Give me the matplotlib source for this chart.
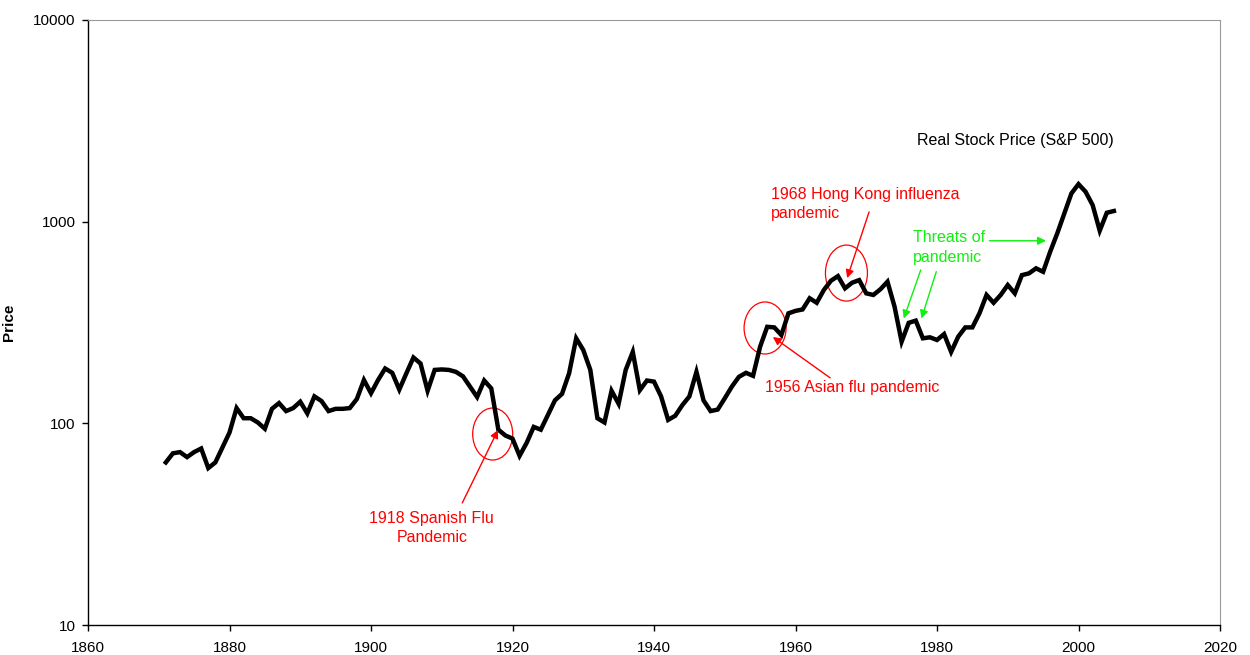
import matplotlib
matplotlib.use("Agg")
import matplotlib.pyplot as plt
from matplotlib.patches import Ellipse
from matplotlib.ticker import FixedLocator, FixedFormatter, NullLocator
import numpy as np

plt.rcParams["font.family"] = ["Liberation Sans", "DejaVu Sans"]

years = list(range(1871, 2006))
price = [
    64, 71, 72, 68, 72, 75, 60, 64, 76, 90,            # 1871-1880
    119, 106, 106, 101, 94, 118, 126, 115, 119, 128,   # 1881-1890
    112, 136, 129, 115, 118, 118, 119, 132, 164, 141,  # 1891-1900
    164, 187, 178, 147, 177, 212, 198, 145, 184, 185,  # 1901-1910
    184, 180, 171, 152, 135, 163, 149, 93, 87, 84,     # 1911-1920
    69, 80, 96, 93, 110, 130, 140, 177, 264, 231,      # 1921-1930
    184, 106, 101, 145, 125, 184, 226, 146, 163, 161,  # 1931-1940
    136, 104, 109, 123, 136, 180, 130, 115, 117, 133,  # 1941-1950
    152, 170, 178, 172, 240, 301, 299, 274, 351, 361,  # 1951-1960
    367, 417, 396, 458, 509, 537, 467, 498, 513, 441,  # 1961-1970
    433, 462, 504, 379, 254, 315, 323, 264, 267, 259,  # 1971-1980
    277, 226, 269, 299, 299, 351, 433, 396, 433, 485,  # 1981-1990
    441, 543, 554, 587, 564, 710, 875, 1099, 1381, 1535,  # 1991-2000
    1407, 1208, 902, 1107, 1129,                        # 2001-2005
]

x_ticks = [1860, 1880, 1900, 1920, 1940, 1960, 1980, 2000, 2020]
y_ticks = [10, 100, 1000, 10000]
y_labels = ["10", "100", "1000", "10000"]

RED = "#ff0000"
GREEN = "#11ee11"
FS = 11.5

fig = plt.figure(figsize=(12.5, 6.55), dpi=100)
ax = fig.add_axes([0.0704, 0.0458, 0.9056, 0.9237])

ax.plot(years, price, color="black", lw=3.2, solid_joinstyle="miter")
ax.set_yscale("log")
ax.set_xlim(1860, 2020)
ax.set_ylim(10, 10000)

ax.xaxis.set_major_locator(FixedLocator(x_ticks))
ax.yaxis.set_major_locator(FixedLocator(y_ticks))
ax.yaxis.set_major_formatter(FixedFormatter(y_labels))
ax.yaxis.set_minor_locator(NullLocator())
ax.tick_params(axis="both", direction="out", length=4.5, width=1, labelsize=11)
ax.tick_params(axis="x", pad=7)
ax.tick_params(axis="y", pad=4.5)
ax.set_ylabel("Price", fontsize=11, fontweight="bold")
ax.yaxis.set_label_coords(-0.064, 0.5)

for side in ("top", "right"):
    ax.spines[side].set_color("#9a9a9a")
    ax.spines[side].set_linewidth(0.8)
for side in ("left", "bottom"):
    ax.spines[side].set_color("black")
    ax.spines[side].set_linewidth(1.0)


def frac(year, value):
    return (year - 1860) / 160, (np.log10(value) - 1) / 3


# circles around the pandemic years
for yr, val, w, h in [(1917.2, 88.5, 40, 52), (1955.7, 297, 42, 52), (1967.2, 556, 42, 56)]:
    cx, cy = frac(yr, val)
    ax.add_patch(Ellipse((cx, cy), w / 1132, h / 605, transform=ax.transAxes,
                         fill=False, edgecolor=RED, lw=0.9))

ax.text(2005.0, 2540, "Real Stock Price (S&P 500)", fontsize=FS, ha="right", va="center")

arrow_r = dict(arrowstyle="-|>", color=RED, lw=1.0, mutation_scale=12, shrinkA=0, shrinkB=0)
arrow_g = dict(arrowstyle="-|>", color=GREEN, lw=1.0, mutation_scale=12, shrinkA=0, shrinkB=0)

ax.annotate("", xy=(1917.95, 92.7), xytext=(1912.9, 40.3), arrowprops=arrow_r)
ax.text(1908.6, 30.3, "1918 Spanish Flu\nPandemic", color=RED, fontsize=FS,
        ha="center", va="center", linespacing=1.4)

ax.annotate("", xy=(1956.8, 268), xytext=(1964.9, 168), arrowprops=arrow_r)
ax.text(1955.7, 150, "1956 Asian flu pandemic", color=RED, fontsize=FS, ha="left", va="center")

ax.annotate("", xy=(1967.3, 525), xytext=(1970.4, 1117), arrowprops=arrow_r)
ax.text(1956.5, 1222, "1968 Hong Kong influenza\npandemic", color=RED, fontsize=FS,
        ha="left", va="center", linespacing=1.4)

ax.text(1976.6, 745, "Threats of\npandemic", color=GREEN, fontsize=FS,
        ha="left", va="center", linespacing=1.35)
ax.annotate("", xy=(1995.4, 804), xytext=(1987.4, 804), arrowprops=arrow_g)
ax.annotate("", xy=(1975.3, 331), xytext=(1977.7, 576), arrowprops=arrow_g)
ax.annotate("", xy=(1977.8, 331), xytext=(1979.9, 565), arrowprops=arrow_g)

fig.savefig("out.png", dpi=100)
